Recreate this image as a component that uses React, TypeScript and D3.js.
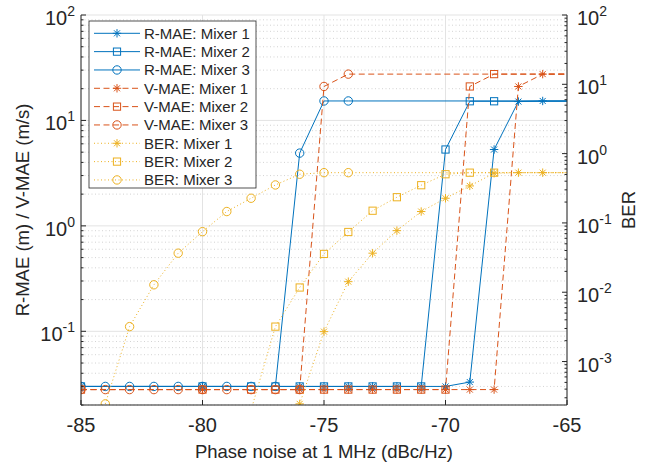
import React from "react";
import * as d3 from "d3";

// ---------- data ----------
const xMixer3 = [-85, -84, -83, -82, -81, -80, -79, -78, -77, -76, -75, -74, -60];
const xMixer2 = [-85, -80, -78, -77, -76, -75, -74, -73, -72, -71, -70, -69, -68, -60];
const xMixer1 = [-85, -80, -76, -75, -74, -73, -72, -71, -70, -69, -68, -67, -66, -60];

const rmaeMixer1 = [0.03, 0.03, 0.03, 0.03, 0.03, 0.03, 0.03, 0.03, 0.03, 0.033, 5.3, 15.1, 15.3, 15.3];
const rmaeMixer2 = [0.03, 0.03, 0.03, 0.03, 0.03, 0.03, 0.03, 0.03, 0.03, 0.03, 5.3, 15.2, 15.2, 15.2];
const rmaeMixer3 = [0.03, 0.03, 0.03, 0.03, 0.03, 0.03, 0.03, 0.03, 0.03, 4.9, 15.3, 15.3, 15.3];

const vmaeMixer1 = [0.028, 0.028, 0.028, 0.028, 0.028, 0.028, 0.028, 0.028, 0.028, 0.028, 0.028, 21, 27.5, 27.5];
const vmaeMixer2 = [0.028, 0.028, 0.028, 0.028, 0.028, 0.028, 0.028, 0.028, 0.028, 0.028, 0.028, 21, 27.5, 27.5];
const vmaeMixer3 = [0.028, 0.028, 0.028, 0.028, 0.028, 0.028, 0.028, 0.028, 0.028, 0.028, 21, 27.5, 27.5];

const xBer1 = [-76, -75, -74, -73, -72, -71, -70, -69, -68, -67, -66, -60];
const xBer2 = [-78, -77, -76, -75, -74, -73, -72, -71, -70, -69, -68, -60];
const xBer3 = [-84, -83, -82, -81, -80, -79, -78, -77, -76, -75, -74, -60];
const berMixer1 = [2.45e-4, 2.7e-3, 0.0142, 0.0366, 0.0774, 0.146, 0.227, 0.342, 0.521, 0.531, 0.531, 0.531];
const berMixer2 = [2.0e-4, 3.19e-3, 0.0117, 0.0357, 0.074, 0.15, 0.235, 0.35, 0.504, 0.531, 0.531, 0.531];
const berMixer3 = [2.45e-4, 3.19e-3, 0.0128, 0.0366, 0.0748, 0.146, 0.227, 0.353, 0.504, 0.531, 0.531, 0.531];

const xTicks = [-85, -80, -75, -70, -65];
const leftExps = [-1, 0, 1, 2];
const rightExps = [-3, -2, -1, 0, 1, 2];

const legendLabels = [
  "R-MAE: Mixer 1", "R-MAE: Mixer 2", "R-MAE: Mixer 3",
  "V-MAE: Mixer 1", "V-MAE: Mixer 2", "V-MAE: Mixer 3",
  "BER: Mixer 1", "BER: Mixer 2", "BER: Mixer 3",
];

// ---------- styling ----------
const BLUE = "#0072BD";
const ORANGE = "#D95319";
const YELLOW = "#EDB120";
const AXIS = "#262626";
const FONT = "'Liberation Sans', Arial, sans-serif";

const L = 81, R = 567, T = 15, B = 405;
const x = d3.scaleLinear().domain([-85, -65]).range([L, R]);
const yL = d3.scaleLog().domain([0.02, 100]).range([B, T]);
const yR = d3.scaleLog().domain([2.36e-4, 100]).range([B, T]);

type Marker = "star" | "square" | "circle";
type Series = { xs: number[]; ys: number[]; color: string; dash: string; marker: Marker; axis: "L" | "R" };

const series: Series[] = [
  { xs: xMixer1, ys: rmaeMixer1, color: BLUE, dash: "", marker: "star", axis: "L" },
  { xs: xMixer2, ys: rmaeMixer2, color: BLUE, dash: "", marker: "square", axis: "L" },
  { xs: xMixer3, ys: rmaeMixer3, color: BLUE, dash: "", marker: "circle", axis: "L" },
  { xs: xMixer1, ys: vmaeMixer1, color: ORANGE, dash: "6,3.5", marker: "star", axis: "L" },
  { xs: xMixer2, ys: vmaeMixer2, color: ORANGE, dash: "6,3.5", marker: "square", axis: "L" },
  { xs: xMixer3, ys: vmaeMixer3, color: ORANGE, dash: "6,3.5", marker: "circle", axis: "L" },
  { xs: xBer1, ys: berMixer1, color: YELLOW, dash: "1,2.5", marker: "star", axis: "R" },
  { xs: xBer2, ys: berMixer2, color: YELLOW, dash: "1,2.5", marker: "square", axis: "R" },
  { xs: xBer3, ys: berMixer3, color: YELLOW, dash: "1,2.5", marker: "circle", axis: "R" },
];

function MarkerShape({ cx, cy, kind, color }: { cx: number; cy: number; kind: Marker; color: string }) {
  if (kind === "circle") return <circle cx={cx} cy={cy} r={4.2} fill="none" stroke={color} strokeWidth={1} />;
  if (kind === "square") return <rect x={cx - 3.6} y={cy - 3.6} width={7.2} height={7.2} fill="none" stroke={color} strokeWidth={1} />;
  const s = 4.2, d = 3.0;
  const p = `M${cx - s},${cy}L${cx + s},${cy}M${cx},${cy - s}L${cx},${cy + s}M${cx - d},${cy - d}L${cx + d},${cy + d}M${cx - d},${cy + d}L${cx + d},${cy - d}`;
  return <path d={p} fill="none" stroke={color} strokeWidth={1} />;
}

export default function App() {
  const minorL: number[] = [];
  for (let e = -2; e <= 1; e++) for (let m = 2; m <= 9; m++) {
    const v = m * Math.pow(10, e);
    if (v >= 0.02 && v <= 100) minorL.push(v);
  }
  const minorR: number[] = [];
  for (let e = -4; e <= 1; e++) for (let m = 2; m <= 9; m++) {
    const v = m * Math.pow(10, e);
    if (v >= 2.36e-4 && v <= 100) minorR.push(v);
  }
  const line = (s: Series) => {
    const ys = s.axis === "L" ? yL : yR;
    return d3.line<number>().x((_, i) => x(s.xs[i])).y((v) => ys(v))(s.ys) || "";
  };

  return (
    <svg width={653} height={466} style={{ display: "block", position: "absolute", left: 0, top: 0 }} fontFamily={FONT}>
      <rect x={0} y={0} width={653} height={466} fill="#fff" />
      <defs>
        <clipPath id="plot"><rect x={L} y={T} width={R - L} height={B - T} /></clipPath>
      </defs>
      {/* grid */}
      <g>
        {minorL.map((v, i) => (
          <line key={"mg" + i} x1={L} x2={R} y1={yL(v)} y2={yL(v)} stroke="#c8c8c8" strokeWidth={0.8} strokeDasharray="1,2.5" />
        ))}
        {leftExps.map((e) => (
          <line key={"Mg" + e} x1={L} x2={R} y1={yL(Math.pow(10, e))} y2={yL(Math.pow(10, e))} stroke="#e3e3e3" strokeWidth={1} />
        ))}
        {xTicks.map((t) => (
          <line key={"xg" + t} x1={x(t)} x2={x(t)} y1={T} y2={B} stroke="#e3e3e3" strokeWidth={1} />
        ))}
      </g>
      {/* data */}
      <g clipPath="url(#plot)">
        {series.map((s, k) => (
          <g key={k}>
            <path d={line(s)} fill="none" stroke={s.color} strokeWidth={1} strokeDasharray={s.dash || undefined} />
            {s.ys.map((v, i) => (
              <MarkerShape key={i} cx={x(s.xs[i])} cy={(s.axis === "L" ? yL : yR)(v)} kind={s.marker} color={s.color} />
            ))}
          </g>
        ))}
      </g>
      {/* axes */}
      <g stroke={AXIS} strokeWidth={1} fill="none">
        <line x1={L} x2={R} y1={B} y2={B} />
        <line x1={L} x2={L} y1={T} y2={B} />
        <line x1={R} x2={R} y1={T} y2={B} />
        {xTicks.map((t) => <line key={"xt" + t} x1={x(t)} x2={x(t)} y1={B} y2={B - 5} />)}
        {leftExps.map((e) => <line key={"lt" + e} x1={L} x2={L + 5} y1={yL(Math.pow(10, e))} y2={yL(Math.pow(10, e))} />)}
        {minorL.map((v, i) => <line key={"lm" + i} x1={L} x2={L + 2.5} y1={yL(v)} y2={yL(v)} />)}
        {rightExps.map((e) => <line key={"rt" + e} x1={R} x2={R - 5} y1={yR(Math.pow(10, e))} y2={yR(Math.pow(10, e))} />)}
        {minorR.map((v, i) => <line key={"rm" + i} x1={R} x2={R - 2.5} y1={yR(v)} y2={yR(v)} />)}
      </g>
      {/* tick labels */}
      <g fill={AXIS} fontSize={20}>
        {xTicks.map((t) => (
          <text key={"xl" + t} x={x(t)} y={432} textAnchor="middle">{t}</text>
        ))}
        {leftExps.map((e) => (
          <text key={"ll" + e} x={75} y={yL(Math.pow(10, e)) + 10} textAnchor="end">
            10<tspan dy={-9} fontSize={14}>{e}</tspan>
          </text>
        ))}
        {rightExps.map((e) => (
          <text key={"rl" + e} x={577} y={yR(Math.pow(10, e)) + 10} textAnchor="start">
            10<tspan dy={-9} fontSize={14}>{e}</tspan>
          </text>
        ))}
      </g>
      {/* axis labels */}
      <g fill={AXIS} fontSize={18.5}>
        <text x={(L + R) / 2} y={458} textAnchor="middle">Phase noise at 1 MHz (dBc/Hz)</text>
        <text transform={`translate(29,${(T + B) / 2}) rotate(-90)`} textAnchor="middle">R-MAE (m) / V-MAE (m/s)</text>
        <text transform={`translate(635,${(T + B) / 2}) rotate(-90)`} textAnchor="middle">BER</text>
      </g>
      {/* legend */}
      <g>
        <rect x={89} y={21} width={167} height={167} fill="#fff" stroke={AXIS} strokeWidth={0.8} />
        {series.map((s, i) => {
          const cy = 33.3 + i * 18.33;
          return (
            <g key={"lg" + i}>
              <line x1={94} x2={140} y1={cy} y2={cy} stroke={s.color} strokeWidth={1} strokeDasharray={s.dash || undefined} />
              <MarkerShape cx={117} cy={cy} kind={s.marker} color={s.color} />
              <text x={144} y={cy + 5.3} fontSize={15} fill={AXIS}>{legendLabels[i]}</text>
            </g>
          );
        })}
      </g>
    </svg>
  );
}
